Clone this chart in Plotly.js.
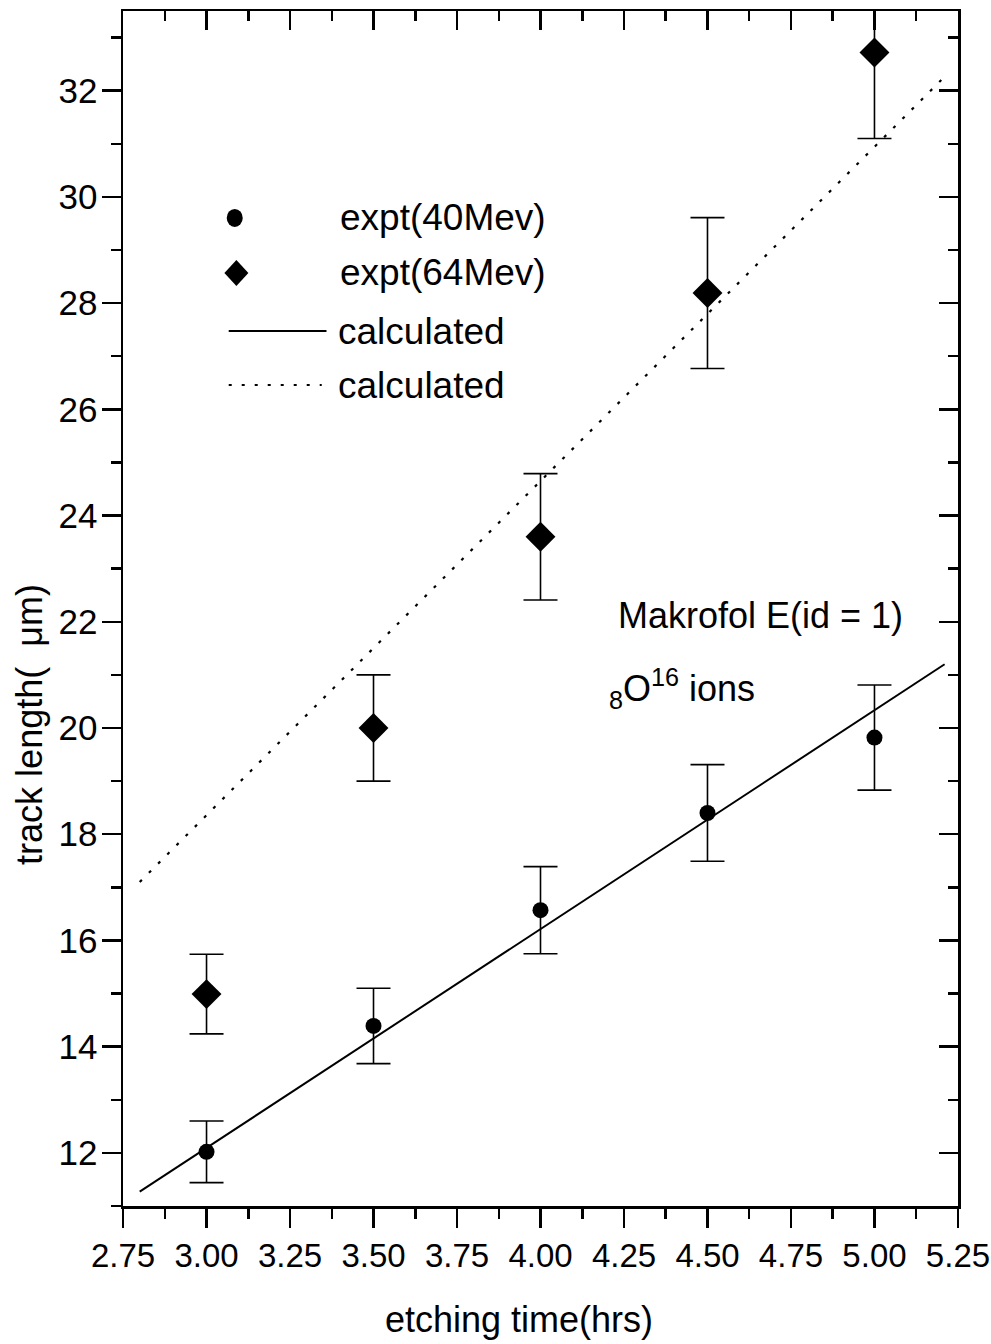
<!DOCTYPE html>
<html>
<head>
<meta charset="utf-8">
<script src="https://cdn.plot.ly/plotly-3.0.1.min.js"></script>
<style>html,body{margin:0;padding:0;background:#fff;}#chart{width:991px;height:1344px;}</style>
</head>
<body>
<div id="chart"></div>
<script>
// ---- data ----
const etchTime = [3.0, 3.5, 4.0, 4.5, 5.0];
const len40 = [12.02, 14.39, 16.57, 18.40, 19.82];
const err40 = [0.58, 0.71, 0.82, 0.91, 0.99];
const len64 = [14.99, 20.0, 23.6, 28.19, 32.72];
const err64 = [0.75, 1.0, 1.19, 1.42, 1.62];
const calcTime40 = [2.8, 5.21];
const calcLen40 = [11.27, 21.2];
const calcTime64 = [2.8, 5.2];
const calcLen64 = [17.1, 32.2];
const xTickVals = [2.75, 3.0, 3.25, 3.5, 3.75, 4.0, 4.25, 4.5, 4.75, 5.0, 5.25];
const xTickText = ["2.75","3.00","3.25","3.50","3.75","4.00","4.25","4.50","4.75","5.00","5.25"];
const yTickVals = [12, 14, 16, 18, 20, 22, 24, 26, 28, 30, 32];
const names = ["expt(40Mev)", "expt(64Mev)", "calculated", "calculated"];

const FONT = "'Liberation Sans', Arial, Helvetica, sans-serif";
const xRange = [2.7499, 5.2501];
const yRange = [11, 33.5];

const traces = [
  {x: etchTime, y: len40, name: names[0], type: 'scatter', mode: 'markers',
   marker: {symbol: 'circle', size: 16, color: '#000'},
   error_y: {type: 'data', array: err40, visible: true, color: '#000', thickness: 1.6, width: 17}},
  {x: etchTime, y: len64, name: names[1], type: 'scatter', mode: 'markers',
   marker: {symbol: 'diamond', size: 23, color: '#000'},
   error_y: {type: 'data', array: err64, visible: true, color: '#000', thickness: 1.6, width: 17}},
  {x: calcTime40, y: calcLen40, name: names[2], type: 'scatter', mode: 'lines',
   line: {color: '#000', width: 2}},
  {x: calcTime64, y: calcLen64, name: names[3], type: 'scatter', mode: 'lines',
   xaxis: 'x2', yaxis: 'y2',
   line: {color: '#000', width: 2.2, dash: '3px,10px'}}
];

const axisCommon = {
  showline: true, linecolor: '#000', linewidth: 2.5, zeroline: false, showgrid: false,
  ticklen: 19, tickwidth: 2.5, tickcolor: '#000'
};

// legend geometry (paper coordinates of the plot area)
const lgX = 0.1338, lgTextX = 0.258;
const lgRows = [0.8268, 0.7808, 0.7322, 0.6870];

const legendShapes = [
  {type: 'circle', xref: 'paper', yref: 'paper', xsizemode: 'pixel', ysizemode: 'pixel',
   xanchor: lgX, yanchor: lgRows[0], x0: -8, x1: 8, y0: -9, y1: 9,
   fillcolor: '#000', line: {width: 0}},
  {type: 'path', xref: 'paper', yref: 'paper', xsizemode: 'pixel', ysizemode: 'pixel',
   xanchor: lgX + 0.002, yanchor: lgRows[1], path: 'M0,-13 L12,0 L0,13 L-12,0 Z',
   fillcolor: '#000', line: {width: 0}},
  {type: 'line', xref: 'paper', yref: 'paper', x0: 0.1266, x1: 0.2437, y0: lgRows[2], y1: lgRows[2],
   line: {color: '#000', width: 2}},
  {type: 'line', xref: 'paper', yref: 'paper', x0: 0.1266, x1: 0.2380, y0: lgRows[3], y1: lgRows[3],
   line: {color: '#000', width: 2, dash: '3px,10px'}}
];

const legendTexts = names.map((n, i) => ({
  xref: 'paper', yref: 'paper', x: i < 2 ? lgTextX : lgTextX - 0.003, y: lgRows[i],
  xanchor: 'left', yanchor: 'middle', text: n, showarrow: false,
  font: {family: FONT, size: 37, color: '#000'}
}));

const layout = {
  width: 991, height: 1344,
  margin: {l: 123, r: 33, t: 11, b: 138, pad: 0},
  paper_bgcolor: '#fff', plot_bgcolor: '#fff',
  font: {family: FONT, color: '#000', size: 33},
  showlegend: false,
  xaxis: Object.assign({}, axisCommon, {
    range: xRange, tickmode: 'array', tickvals: xTickVals, ticktext: xTickText,
    ticks: 'outside', tickfont: {family: FONT, size: 33, color: '#000'},
    ticklabeloverflow: 'allow',
    minor: {dtick: 0.125, tick0: 2.75, ticks: 'outside', ticklen: 10, tickwidth: 2.5, tickcolor: '#000'}
  }),
  yaxis: Object.assign({}, axisCommon, {
    range: yRange, tickmode: 'array', tickvals: yTickVals,
    ticks: 'outside', tickfont: {family: FONT, size: 35, color: '#000'},
    ticklabelstandoff: -3, ticklabeloverflow: 'allow',
    minor: {dtick: 1, tick0: 11, ticks: 'outside', ticklen: 10, tickwidth: 2.5, tickcolor: '#000'}
  }),
  xaxis2: Object.assign({}, axisCommon, {
    overlaying: 'x', side: 'top', anchor: 'y2', range: xRange, tickmode: 'array', tickvals: xTickVals,
    ticks: 'inside', showticklabels: false,
    minor: {dtick: 0.125, tick0: 2.75, ticks: 'inside', ticklen: 10, tickwidth: 2.5, tickcolor: '#000'}
  }),
  yaxis2: Object.assign({}, axisCommon, {
    overlaying: 'y', side: 'right', anchor: 'x2', range: yRange, tickmode: 'array', tickvals: yTickVals,
    ticks: 'inside', showticklabels: false,
    minor: {dtick: 1, tick0: 11, ticks: 'inside', ticklen: 10, tickwidth: 2.5, tickcolor: '#000'}
  }),
  shapes: legendShapes,
  annotations: legendTexts.concat([
    {xref: 'paper', yref: 'paper', x: 0.474, y: -0.095, xanchor: 'center', yanchor: 'middle',
     text: 'etching time(hrs)', showarrow: false, font: {family: FONT, size: 36, color: '#000'}},
    {xref: 'paper', yref: 'paper', x: -0.112, y: 0.403, xanchor: 'center', yanchor: 'middle', textangle: -90,
     text: 'track length(\u00a0 \u03bcm)', showarrow: false, font: {family: FONT, size: 36, color: '#000'}},
    {xref: 'x', yref: 'y', x: 4.225, y: 22.11, xanchor: 'left', yanchor: 'middle',
     text: 'Makrofol E(id = 1)', showarrow: false, font: {family: FONT, size: 36, color: '#000'}},
    {xref: 'x', yref: 'y', x: 4.2, y: 20.75, xanchor: 'left', yanchor: 'middle',
     text: '<sub>8</sub>O<sup>16</sup> ions', showarrow: false, font: {family: FONT, size: 36, color: '#000'}}
  ])
};

Plotly.newPlot('chart', traces, layout, {staticPlot: true, displayModeBar: false});
</script>
</body>
</html>
